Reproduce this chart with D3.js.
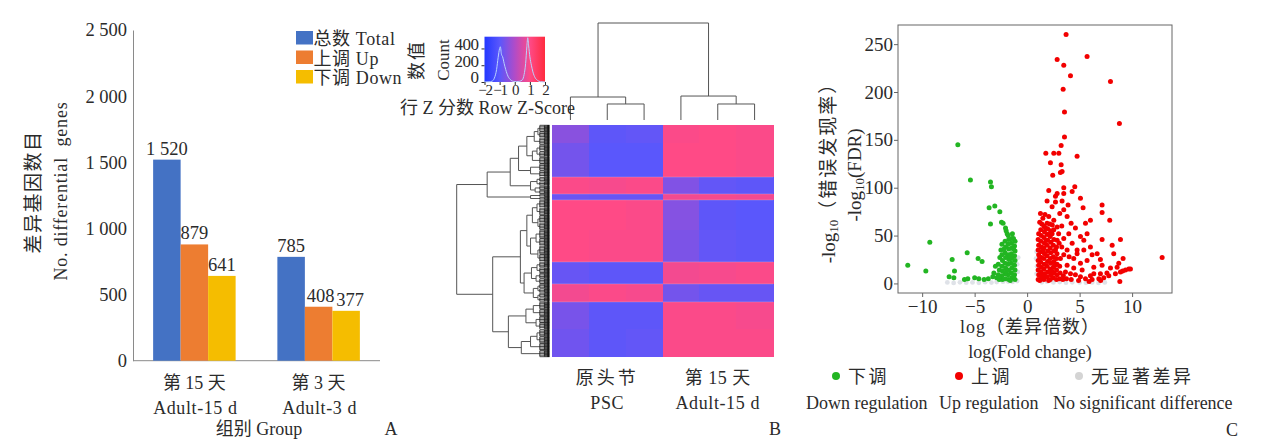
<!DOCTYPE html>
<html><head><meta charset="utf-8">
<script src="https://cdn.jsdelivr.net/npm/d3@7"></script>
<style>
body{margin:0;background:#fff;}
svg{display:block;}
</style>
</head><body>
<svg id="c" width="1269" height="442"></svg>
<script>
// ================= DATA =================
// Panel A
const groupsCN = ["第 15 天", "第 3 天"];
const groupsEN = ["Adult-15 d", "Adult-3 d"];
const seriesNames = ["总数 Total", "上调 Up", "下调 Down"];
const totalCounts = [1520, 785];
const upCounts = [879, 408];
const downCounts = [641, 377];
const yTicksA = [0, 500, 1000, 1500, 2000, 2500];

// Panel B
const heatColumns = ["PSC-1", "PSC-2", "PSC-3", "A15-1", "A15-2", "A15-3"];
const colGroupsCN = ["原头节", "第 15 天"];
const colGroupsEN = ["PSC", "Adult-15 d"];
const heatRowGenes = [120, 221, 111, 39, 200, 206, 144, 118, 180, 181];
const heatRowZ = [
  [-0.45, -0.95, -0.9, 0.95, 1.0, 0.95],
  [-0.7, -1.0, -1.0, 1.0, 1.0, 0.95],
  [0.95, 0.9, 0.95, -0.55, -0.9, -0.95],
  [-0.8, -0.85, -0.85, 0.85, 0.9, 0.85],
  [1.0, 1.0, 0.95, -0.5, -0.95, -1.0],
  [1.0, 0.95, 0.95, -0.6, -0.9, -0.95],
  [-0.85, -0.95, -0.95, 0.85, 0.9, 0.95],
  [0.85, 0.95, 0.9, -0.7, -0.85, -0.85],
  [-0.65, -0.95, -0.95, 0.95, 0.95, 0.9],
  [-0.75, -0.95, -0.9, 0.95, 0.95, 0.95]
];
const colTree = [1.0, [0.237, 0, [0.165, 1, 2]], [0.247, 3, [0.165, 4, 5]]];
const rowTree = [1.0,
  [0.67,
    [0.42,
      [0.33, [0.24, [0.16, [0.12, 44, 40], 46], [0.18, [0.13, 42, 38], 44]], [0.2, 45, 42]],
      [0.2, [0.13, 30, 28], [0.15, 27, 26]]
    ],
    [0.2, 20, 19]
  ],
  [0.61,
    [0.31,
      [0.24, [0.18, [0.13, 52, 48], [0.12, 50, 46]], [0.2, [0.14, 55, 50], [0.12, 54, 51]]],
      [0.27, [0.19, [0.13, 38, 35], [0.14, 36, 35]], [0.17, [0.12, 30, 29], [0.12, 31, 28]]]
    ],
    [0.44, [0.25, [0.17, 48, 45], [0.14, 44, 43]], [0.3, [0.2, [0.13, 46, 44], 47], 44]]
  ]
];
const keyTicks = [-2, -1, 0, 1, 2];
const keyCountTicks = [0, 200, 400];
const histZ = [-2, -1.7, -1.5, -1.35, -1.2, -1.1, -1.0, -0.95, -0.88, -0.8, -0.7, -0.6, -0.45, -0.3, -0.1, 0.1, 0.3, 0.5, 0.62, 0.72, 0.8, 0.86, 0.92, 1.0, 1.1, 1.2, 1.35, 1.5, 1.7, 2];
const histCount = [0, 2, 10, 45, 150, 290, 400, 420, 330, 300, 220, 150, 70, 30, 8, 4, 8, 25, 90, 220, 420, 528, 430, 300, 200, 120, 50, 20, 4, 0];

// Panel C
const volcanoXTicks = [-10, -5, 0, 5, 10];
const volcanoYTicks = [0, 50, 100, 150, 200, 250];
const legendCN = ["下调", "上调", "无显著差异"];
const legendEN = ["Down regulation", "Up regulation", "No significant difference"];
const nsPoints = [[-7.6,1],[-7.0,0.5],[-6.4,1.2],[-5.8,0.8],[-5.2,1],[-4.6,0.6],[-4.0,1.3],[-3.4,0.9],[-2.9,1.5],[-2.3,1.8],[-1.8,2],[-1.4,1.6],[-0.95,2.5],[-0.9,12],[-0.95,20],[-0.85,27],[0.9,10],[0.95,18],[0.85,26],[0.9,33],[1.4,1.2],[1.9,1.8],[2.5,1],[3.1,1.5],[3.7,0.8],[4.3,1.2],[5,1],[5.6,0.7],[6.2,1.1],[6.8,0.5],[7.4,1]];
const downPoints = [
  [-6.6,145],[-5.4,108],[-3.49,106],[-3.40,101],[-3.08,81],[-3.62,79],[-2.60,75],[-3.49,62],[-2.44,64],[-2.29,63],[-2.06,58],[-2.00,55],[-1.90,52],
  [-9.27,43],[-11.37,19],[-9.65,13],[-7.14,25],[-4.67,26],[-4.29,23],[-5.71,32],[-6.92,13],[-7.43,7],[-6.98,6],[-3.02,18],[-3.17,11],[-3.27,7],
  [-5.97,4],[-5.65,5],[-5.0,6],[-4.6,5],[-4.1,4],[-3.7,5],[-2.9,6],[-2.75,9],[-2.65,14],[-2.75,20],[-2.6,27],[-2.5,35],[-2.4,41],[-1.4,52],[-1.3,47],[-1.8,50],
  [-1.15,4],[-1.2,9],[-1.15,14],[-1.2,19],[-1.15,24],[-1.2,29],[-1.15,34],[-1.2,39],[-1.15,44],
  [-1.45,6],[-1.5,11],[-1.45,16],[-1.5,21],[-1.45,26],[-1.5,31],[-1.45,37],[-1.5,42],[-1.45,47],
  [-1.75,4],[-1.8,9],[-1.75,14],[-1.8,20],[-1.75,25],[-1.8,30],[-1.75,36],[-1.8,41],[-1.75,46],
  [-2.05,5],[-2.1,10],[-2.05,16],[-2.1,21],[-2.05,27],[-2.1,32],[-2.05,38],[-2.1,44],
  [-2.35,4],[-2.4,8],[-2.35,13],[-2.4,18],[-2.35,24],[-2.4,30],
  [-2.65,4],[-2.7,7],[-1.3,7],[-1.6,3],[-1.95,13],[-1.3,36],[-1.6,28],[-2.2,36]
];
const upPoints = [
  [3.71,260],[5.71,237],[2.86,234],[3.49,228],[4.13,217],[7.94,211],[3.43,203],[3.56,179],[8.79,167],[3.56,153],[3.24,144],
  [1.78,136],[2.54,136],[3.02,136],[4.76,133],[2.22,126],[3.24,124],[2.44,113],[3.17,116],[3.33,117],
  [2.06,97],[3.49,100],[3.49,94],[4.29,96],[4.54,101],[5.08,89],[2.70,91],[5.33,79],[7.14,82],[7.14,74],
  [7.87,66],[6.03,66],[5.56,63],[8.89,46],[7.14,46],[5.40,45],[8.10,40],[8.25,31],[9.14,26],[12.86,27],
  [4.76,35],[6.19,30],[6.98,25],
  [1.90,86],[2.38,80],[2.70,85],[3.11,73],[3.49,77],[3.81,70],[2.54,66],[2.06,70],[3.33,86],[2.86,94],
  [4.19,63],[4.60,58],[3.97,52],[3.49,47],[5.08,49],[5.71,52],[4.29,42],[3.81,35],[4.76,31],[5.40,35],
  [6.03,38],[6.67,31],[5.71,24],[4.44,26],[5.08,21],[6.35,17],[7.14,19],[7.94,16],[8.57,17],[8.73,21],
  [9.68,15],[9.84,15],[9.37,14],[8.89,12],[8.41,10],[7.78,8],[7.30,6],[6.83,5],[6.19,4],[5.56,5],
  [5.08,7],[4.60,9],[4.13,10],[3.65,12],[6.03,8],[6.98,10],[8.83,2],[6.35,10],[4.44,16],[5.24,14],
  [3.81,19],[3.17,26],[2.70,35],[3.49,30],[2.86,45],[2.38,52],[2.86,59],[2.54,56],[2.16,62],[1.75,58],
  [1.5,68],[1.2,64],[1.7,72],[1.27,73],
  [1.05,4],[1.1,9],[1.05,14],[1.1,19],[1.05,24],[1.1,30],[1.05,35],[1.1,40],[1.05,46],[1.1,52],
  [1.35,6],[1.3,12],[1.35,17],[1.3,22],[1.35,27],[1.3,33],[1.35,38],[1.3,44],[1.35,50],[1.3,56],
  [1.6,4],[1.65,10],[1.6,15],[1.65,20],[1.6,26],[1.65,31],[1.6,37],[1.65,42],[1.6,48],[1.65,54],[1.6,60],
  [1.9,7],[1.95,12],[1.9,18],[1.95,23],[1.9,29],[1.95,34],[1.9,40],[1.95,45],[1.9,51],[1.95,57],[1.9,63],
  [2.2,4],[2.25,9],[2.2,15],[2.25,21],[2.2,26],[2.25,32],[2.2,37],[2.25,43],[2.2,49],[2.25,55],
  [2.5,6],[2.55,11],[2.5,17],[2.55,23],[2.5,28],[2.55,34],[2.5,40],[2.55,46],
  [2.8,4],[2.85,9],[2.8,14],[2.85,20],[2.8,26],[2.85,31],[2.8,38],
  [3.1,5],[3.15,11],[3.1,18],[3.4,4],[3.45,8],[3.75,5],
  [1.2,3],[1.45,9],[1.75,7],[2.05,3],[2.35,13],[2.65,19],[1.2,27],[1.5,34],[1.8,45],[2.1,52],[2.4,61],[1.4,62],
  [3.05,42],[3.3,38],[3.0,52],[3.3,60],[4.0,28],[4.2,4],[4.9,3],[5.9,2],[7.0,3],[7.6,11],[9.1,13],[3.9,82]
];

// ================= DRAWING =================
const FONT = "'Liberation Serif','Times New Roman','Noto Sans CJK SC',serif";
const TXT = "#2b2b2b";
const svg = d3.select("#c").attr("font-family", FONT);
const addText = (x, y, s, size, anchor, rot) => {
  const t = svg.append("text").attr("font-size", size).attr("fill", TXT)
    .attr("text-anchor", anchor || "start").text(s);
  if (rot) t.attr("transform", `translate(${x},${y}) rotate(-90)`).attr("dominant-baseline", "central");
  else t.attr("x", x).attr("y", y);
  return t;
};
const fmtK = d => d >= 1000 ? Math.floor(d / 1000) + " " + String(d % 1000).padStart(3, "0") : String(d);

// ---------- Panel A ----------
const seriesColors = ["#4472c4", "#ed7d31", "#f5bd00"];
const seriesValues = [totalCounts, upCounts, downCounts];
const xA0 = d3.scaleBand().domain(groupsCN).range([133, 380]).paddingInner(0.336).paddingOuter(0.162);
const xA1 = d3.scaleBand().domain(seriesNames).range([0, xA0.bandwidth()]);
const yA = d3.scaleLinear().domain([0, 2500]).range([360.7, 30]);

const axA = svg.append("g").attr("transform", "translate(133,0)")
  .call(d3.axisLeft(yA).tickValues(yTicksA).tickFormat(fmtK).tickSize(0).tickSizeOuter(0).tickPadding(6));
axA.attr("font-family", FONT).attr("font-size", 18.5).attr("color", TXT);
axA.select(".domain").attr("stroke", "#8a8a8a");
svg.append("line").attr("x1", 133).attr("x2", 380).attr("y1", yA(0)).attr("y2", yA(0)).attr("stroke", "#8a8a8a");

groupsCN.forEach((g, gi) => {
  seriesNames.forEach((s, si) => {
    const v = seriesValues[si][gi];
    const x = xA0(g) + xA1(s);
    svg.append("rect").attr("x", x).attr("y", yA(v)).attr("width", xA1.bandwidth())
      .attr("height", yA(0) - yA(v)).attr("fill", seriesColors[si]);
    addText(x + xA1.bandwidth() / 2 + (gi === 1 && si > 0 ? si * 2 : 0), yA(v) - 5, fmtK(v), 18.5, "middle");
  });
  const cx = xA0(g) + xA0.bandwidth() / 2;
  addText(cx, 389, g, 18, "middle");
  addText(cx + 1, 414, groupsEN[gi], 18, "middle").attr("letter-spacing", 0.6);
});
addText(259, 435, "组别 Group", 18, "middle");
addText(391, 435, "A", 18, "middle");
addText(33, 192, "差异基因数目", 19, "middle", true).attr("letter-spacing", 1.5);
addText(61, 191, "No. differential  genes", 18, "middle", true).style("white-space", "pre").attr("letter-spacing", 0.8);

// legend A
seriesNames.forEach((s, si) => {
  const ly = 31 + si * 19.5;
  svg.append("rect").attr("x", 296).attr("y", ly).attr("width", 17).attr("height", 13.5).attr("fill", seriesColors[si]);
  addText(313.5, ly + 14, s, 18, "start").attr("letter-spacing", 0.6);
});

// ---------- Panel B ----------
const heatColor = d3.scaleLinear().domain([-2, -1, 0, 1, 2])
  .range(["#2338ff", "#5a57fc", "#b04cc8", "#ff4a86", "#ff2b3e"]).clamp(true);
const xCol = d3.scaleBand().domain(d3.range(heatColumns.length)).range([552, 773]);
const totalGenes = d3.sum(heatRowGenes);
const yRow = d3.scaleLinear().domain([0, totalGenes]).range([125, 357]);

let acc = 0;
heatRowGenes.forEach((n, ri) => {
  const g0 = acc, g1 = acc + n; acc = g1;
  heatColumns.forEach((c, ci) => {
    svg.append("rect").attr("x", xCol(ci)).attr("y", yRow(g0))
      .attr("width", xCol.bandwidth() + 0.5).attr("height", yRow(g1) - yRow(g0) + 0.3)
      .attr("fill", heatColor(heatRowZ[ri][ci])).attr("shape-rendering", "crispEdges");
  });
});
let acc2 = 0;
heatRowGenes.forEach((n, ri) => {
  acc2 += n;
  if (ri < heatRowGenes.length - 1 && Math.sign(heatRowZ[ri][0]) !== Math.sign(heatRowZ[ri + 1][0])) {
    svg.append("line").attr("x1", 552).attr("x2", 773).attr("y1", yRow(acc2)).attr("y2", yRow(acc2))
      .attr("stroke", "#d9b0d8").attr("stroke-width", 0.6).attr("opacity", 0.6);
  }
});

// column dendrogram
const yColDen = d3.scaleLinear().domain([0, 1]).range([120, 23]);
const colRoot = d3.hierarchy(colTree, d => Array.isArray(d) ? d.slice(1) : null);
colRoot.eachAfter(n => {
  if (!n.children) { n.h = 0; n.px = xCol(n.data) + xCol.bandwidth() / 2; }
  else { n.h = n.data[0]; n.px = (n.children[0].px + n.children[n.children.length - 1].px) / 2; }
});
const denG = svg.append("g").attr("stroke", "#555").attr("stroke-width", 1).attr("fill", "none");
colRoot.each(n => {
  if (!n.children) return;
  const yy = yColDen(n.h);
  denG.append("line").attr("x1", n.children[0].px).attr("x2", n.children[n.children.length - 1].px).attr("y1", yy).attr("y2", yy);
  n.children.forEach(c => denG.append("line").attr("x1", c.px).attr("x2", c.px).attr("y1", yy).attr("y2", yColDen(c.h)));
});

// row dendrogram
const xRowDen = d3.scaleLinear().domain([0, 1]).range([549, 456.7]);
const bundleH = 0.1;
const rowRoot = d3.hierarchy(rowTree, d => Array.isArray(d) ? d.slice(1) : null);
let gAcc = 0;
rowRoot.leaves().forEach(l => { l.g0 = gAcc; gAcc += l.data; l.g1 = gAcc; });
rowRoot.eachAfter(n => {
  if (!n.children) { n.h = bundleH; n.py = yRow((n.g0 + n.g1) / 2); }
  else { n.h = n.data[0]; n.py = (n.children[0].py + n.children[n.children.length - 1].py) / 2; }
});
const frG = svg.append("g").attr("stroke", "#151515").attr("stroke-width", 0.8);
rowRoot.each(n => {
  if (n.children) {
    const xx = xRowDen(n.h);
    denG.append("line").attr("x1", xx).attr("x2", xx).attr("y1", n.children[0].py).attr("y2", n.children[n.children.length - 1].py);
    n.children.forEach(c => denG.append("line").attr("x1", xx).attr("x2", xRowDen(c.h)).attr("y1", c.py).attr("y2", c.py));
  } else {
    const xb = xRowDen(n.h);
    const yTop = yRow(n.g0) + 0.5, yBot = yRow(n.g1) - 0.5;
    frG.append("line").attr("x1", xb).attr("x2", xb).attr("y1", yTop).attr("y2", yBot);
    const xm = (xb + 549) / 2;
    frG.append("line").attr("x1", xm).attr("x2", xm).attr("y1", yTop).attr("y2", yBot);
    for (let k = n.g0 + 2; k < n.g1 - 1; k += 5) {
      const half = (k - n.g0) % 10 < 5;
      frG.append("line").attr("x1", half ? xb : xm).attr("x2", 549.5).attr("y1", yRow(k)).attr("y2", yRow(k));
    }
  }
});
svg.append("line").attr("x1", 548.3).attr("x2", 548.3).attr("y1", 125).attr("y2", 357).attr("stroke", "#111").attr("stroke-width", 2);

// color key
const kx = d3.scaleLinear().domain([-2, 2]).range([484.5, 545]);
const ky = d3.scaleLinear().domain([0, 540]).range([82, 36.7]);
const grad = svg.append("defs").append("linearGradient").attr("id", "kg");
keyTicks.forEach(t => grad.append("stop").attr("offset", ((t + 2) / 4 * 100) + "%").attr("stop-color", heatColor(t)));
svg.append("rect").attr("x", kx(-2)).attr("y", ky(540)).attr("width", kx(2) - kx(-2)).attr("height", ky(0) - ky(540)).attr("fill", "url(#kg)");
svg.append("path").datum(histZ.map((z, i) => [z, histCount[i]]))
  .attr("d", d3.line().x(d => kx(d[0])).y(d => ky(d[1])).curve(d3.curveMonotoneX))
  .attr("fill", "none").attr("stroke", "#b9d2ff").attr("stroke-width", 1);
const kAxL = svg.append("g").attr("transform", `translate(${kx(-2)},0)`)
  .call(d3.axisLeft(ky).tickValues(keyCountTicks).tickFormat(d3.format("d")).tickSize(3).tickSizeOuter(0).tickPadding(3));
kAxL.attr("font-family", FONT).attr("font-size", 17).attr("color", TXT);
kAxL.select(".domain").remove();
kAxL.selectAll("text").attr("letter-spacing", -0.5).attr("dy", "0.05em");
const kAxB = svg.append("g").attr("transform", `translate(0,${ky(0)})`)
  .call(d3.axisBottom(kx).tickValues(keyTicks).tickFormat(d3.format("d")).tickSize(3).tickSizeOuter(0).tickPadding(-1));
kAxB.attr("font-family", FONT).attr("font-size", 15).attr("color", TXT);
kAxB.select(".domain").remove();
kAxB.selectAll("text").attr("letter-spacing", -1.2);
addText(443, 60, "Count", 17, "middle", true);
addText(417, 60, "数值", 18, "middle", true).attr("letter-spacing", 2);
addText(400, 114, "行 Z 分数 Row Z-Score", 18, "start");

// column labels
colGroupsCN.forEach((g, i) => {
  const cx = (xCol(i * 3) + xCol(i * 3 + 2) + xCol.bandwidth()) / 2;
  addText(cx, 384, g, 18, "middle").attr("letter-spacing", i === 0 ? 3 : 0.5);
  addText(cx, 409, colGroupsEN[i], 18, "middle").attr("letter-spacing", 0.6);
});
addText(775, 435, "B", 18, "middle");

// ---------- Panel C ----------
const xV = d3.scaleLinear().domain([-12.3, 13.8]).range([898, 1172]);
const yV = d3.scaleLinear().domain([-10, 270]).range([293, 25]);
const axVY = svg.append("g").attr("transform", "translate(898,0)")
  .call(d3.axisLeft(yV).tickValues(volcanoYTicks).tickSize(4).tickSizeOuter(0).tickPadding(1));
axVY.attr("font-family", FONT).attr("font-size", 19).attr("color", TXT);
axVY.selectAll("line").attr("stroke", "#666");
axVY.select(".domain").remove();
const axVX = svg.append("g").attr("transform", "translate(0,293)")
  .call(d3.axisBottom(xV).tickValues(volcanoXTicks).tickSize(4).tickSizeOuter(0).tickPadding(3));
axVX.attr("font-family", FONT).attr("font-size", 19).attr("color", TXT);
axVX.selectAll("line").attr("stroke", "#666");
axVX.select(".domain").remove();

const ptG = svg.append("g");
ptG.selectAll("circle.ns").data(nsPoints).join("circle").attr("class", "ns")
  .attr("cx", d => xV(d[0])).attr("cy", d => yV(d[1])).attr("r", 2.4).attr("fill", "#dfe2e8");
ptG.selectAll("circle.dn").data(downPoints).join("circle").attr("class", "dn")
  .attr("cx", d => xV(d[0])).attr("cy", d => yV(d[1])).attr("r", 2.5).attr("fill", "#22b522");
ptG.selectAll("circle.up").data(upPoints).join("circle").attr("class", "up")
  .attr("cx", d => xV(d[0])).attr("cy", d => yV(d[1])).attr("r", 2.5).attr("fill", "#f20000");
svg.append("rect").attr("x", 898).attr("y", 25).attr("width", 274).attr("height", 268)
  .attr("fill", "none").attr("stroke", "#666").attr("stroke-width", 1);

const yl1 = svg.append("text").attr("transform", "translate(828,168) rotate(-90)").attr("text-anchor", "middle")
  .attr("dominant-baseline", "central").attr("font-size", 19).attr("fill", TXT);
yl1.append("tspan").text("-log");
yl1.append("tspan").attr("font-size", 13).attr("dy", 5).text("10");
yl1.append("tspan").attr("dy", -5).attr("letter-spacing", 2).text("（错误发现率）");
const yl2 = svg.append("text").attr("transform", "translate(854,175) rotate(-90)").attr("text-anchor", "middle")
  .attr("dominant-baseline", "central").attr("font-size", 19).attr("fill", TXT);
yl2.append("tspan").text("-log");
yl2.append("tspan").attr("font-size", 13).attr("dy", 5).text("10");
yl2.append("tspan").attr("dy", -5).text("(FDR)");

addText(1030, 333, "log（差异倍数）", 18, "middle").attr("letter-spacing", 1);
addText(1030, 358, "log(Fold change)", 18, "middle");

// legend C
const legColors = ["#22b522", "#f20000", "#d4d4d4"];
const legDotX = [836, 959, 1079];
const legEN_X = [806, 939, 1053];
legendCN.forEach((s, i) => {
  svg.append("circle").attr("cx", legDotX[i]).attr("cy", 376).attr("r", 4).attr("fill", legColors[i]);
  addText(legDotX[i] + 12, 383, s, 18, "start").attr("letter-spacing", 2.5);
  addText(legEN_X[i], 409, legendEN[i], 18, "start");
});
addText(1232, 436, "C", 18, "middle");
</script>
</body></html>
